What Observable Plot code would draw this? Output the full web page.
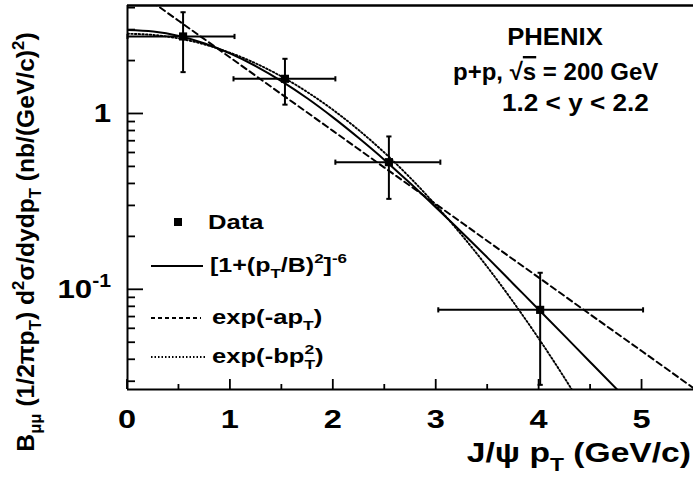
<!DOCTYPE html>
<html><head><meta charset="utf-8">
<script src="https://cdn.jsdelivr.net/npm/d3@7"></script>
<script src="https://cdn.jsdelivr.net/npm/@observablehq/plot@0.6"></script>
<style>
body{margin:0;background:#fff}
svg{display:block}
</style>
</head><body><div id="chart"></div>
<script>
// ---- Data ----
const dataX     = [0.54, 1.53, 2.54, 4.01];
const dataY     = [2.76, 1.585, 0.532, 0.0769];
const dataYLow  = [1.73, 1.13, 0.329, 0.0288];
const dataYHigh = [3.79, 2.06, 0.745, 0.125];
const dataXLow  = [0.0, 1.03, 2.02, 3.02];
const dataXHigh = [1.04, 2.02, 3.04, 5.01];

// [1+(pT/B)^2]^-6 curve (solid)
const powerX = [0,0.25,0.5,0.75,1,1.25,1.5,1.75,2,2.25,2.5,2.75,3,3.25,3.5,3.75,4,4.25,4.5,4.75,4.8];
const powerY = [3.000,2.941,2.774,2.518,2.205,1.867,1.533,1.224,0.953,0.727,0.546,0.402,0.293,0.212,0.152,0.108,0.0768,0.0545,0.0386,0.0274,0.0256];
// exp(-a pT) curve (dashed)
const expX = [0,0.5,1,1.5,2,2.5,3,3.5,4,4.5,5,5.5];
const expY = [5.465,3.379,2.089,1.292,0.799,0.494,0.306,0.189,0.117,0.0722,0.0447,0.0276];
// exp(-b pT^2) curve (dotted)
const gaussX = [0,0.25,0.5,0.75,1,1.25,1.5,1.75,2,2.25,2.5,2.75,3,3.25,3.5,3.75,4,4.25,4.4];
const gaussY = [2.860,2.816,2.687,2.485,2.227,1.935,1.630,1.330,1.052,0.807,0.600,0.432,0.301,0.204,0.134,0.085,0.0524,0.0313,0.0226];

// Axes
const xDomain = [0, 5.5];
const yDomain = [0.0271, 4.14];
const xMajorTicks = [0,1,2,3,4,5];
const xMinorTicks = [0.5,1.5,2.5,3.5,4.5];
const yMajorTicks = [0.1, 1];
const yMinorTicks = [0.03,0.04,0.05,0.06,0.07,0.08,0.09,0.2,0.3,0.4,0.5,0.6,0.7,0.8,0.9,2,3,4];
const yTickBase = ["10", "1"];
const yTickSup  = ["-1", ""];

const legendNames = ["Data", "power", "exp", "gauss"];

const points = dataX.map((x,i)=>({x, y:dataY[i], ylo:dataYLow[i], yhi:dataYHigh[i], xlo:dataXLow[i], xhi:dataXHigh[i]}));
const powerData = powerX.map((x,i)=>({x, y:powerY[i]}));
const expData = expX.map((x,i)=>({x, y:expY[i]}));
const gaussData = gaussX.map((x,i)=>({x, y:gaussY[i]}));

const hcap = {draw(ctx, size){const h=Math.sqrt(size/Math.PI); ctx.moveTo(-h,0); ctx.lineTo(h,0);}};
const vcap = {draw(ctx, size){const h=Math.sqrt(size/Math.PI); ctx.moveTo(0,-h); ctx.lineTo(0,h);}};

const FONT = "Liberation Sans, Arial, Helvetica, sans-serif";

const plot = Plot.plot({
  width: 693, height: 485,
  marginLeft: 127, marginRight: 0, marginTop: 5, marginBottom: 96,
  x: {domain: xDomain, axis: null},
  y: {type: "log", domain: yDomain, axis: null},
  style: {fontFamily: FONT, background: "white", color: "black"},
  marks: [
    Plot.line(powerData, {x:"x", y:"y", stroke:"black", strokeWidth:2, curve:"monotone-x", clip:true}),
    Plot.line(expData, {x:"x", y:"y", stroke:"black", strokeWidth:2, strokeDasharray:"6,4", curve:"monotone-x", clip:true}),
    Plot.line(gaussData, {x:"x", y:"y", stroke:"black", strokeWidth:1.9, strokeDasharray:"1.5,2.2", curve:"monotone-x", clip:true}),
    Plot.ruleX(points, {x:"x", y1:"ylo", y2:"yhi", stroke:"black", strokeWidth:2}),
    Plot.ruleY(points, {y:"y", x1:"xlo", x2:"xhi", stroke:"black", strokeWidth:2}),
    Plot.dot(points, {x:"x", y:"ylo", symbol:hcap, r:2.6, stroke:"black", fill:"none", strokeWidth:2}),
    Plot.dot(points, {x:"x", y:"yhi", symbol:hcap, r:2.6, stroke:"black", fill:"none", strokeWidth:2}),
    Plot.dot(points, {x:"xlo", y:"y", symbol:vcap, r:2.6, stroke:"black", fill:"none", strokeWidth:2}),
    Plot.dot(points, {x:"xhi", y:"y", symbol:vcap, r:2.6, stroke:"black", fill:"none", strokeWidth:2}),
    Plot.dot(points, {x:"x", y:"y", symbol:"square", r:4.6, fill:"black", stroke:"none"}),
    Plot.ruleX([xDomain[0]], {stroke:"black", strokeWidth:2}),
    Plot.ruleY([yDomain[0]], {stroke:"black", strokeWidth:2.2}),
    Plot.ruleY([yDomain[1]], {stroke:"black", strokeWidth:2.6})
  ]
});
document.getElementById("chart").appendChild(plot);

const sx = plot.scale("x"), sy = plot.scale("y");
const svg = d3.select(plot);
const X = v => sx.apply(v), Y = v => sy.apply(v);
const x0 = X(xDomain[0]), yb = Y(yDomain[0]);

// ticks (inward)
const tg = svg.append("g").attr("stroke","black").attr("stroke-width",1.8);
xMajorTicks.forEach(v=>tg.append("line").attr("x1",X(v)).attr("x2",X(v)).attr("y1",yb).attr("y2",yb-10));
xMinorTicks.forEach(v=>tg.append("line").attr("x1",X(v)).attr("x2",X(v)).attr("y1",yb).attr("y2",yb-5));
yMajorTicks.forEach(v=>tg.append("line").attr("x1",x0).attr("x2",x0+16).attr("y1",Y(v)).attr("y2",Y(v)));
yMinorTicks.forEach(v=>tg.append("line").attr("x1",x0).attr("x2",x0+8).attr("y1",Y(v)).attr("y2",Y(v)));

// rich text helper (segments: normal / sub / sup / stacked sub+sup), horizontal stretch k
function rich(parent, x, y, segs, size, anchor, k = 1) {
  const g = parent.append("g").attr("font-family", FONT).attr("font-weight","bold")
    .attr("fill","black").attr("text-anchor","start");
  let cx = 0;
  const small = size*0.68;
  for (const s of segs) {
    const [t, kind, t2] = s;
    if (kind === "subsup") {
      const a = g.append("text").attr("x",cx).attr("y",0.32*size).attr("font-size",small).text(t);
      const b = g.append("text").attr("x",cx).attr("y",-0.45*size).attr("font-size",small).text(t2);
      cx += Math.max(a.node().getComputedTextLength(), b.node().getComputedTextLength());
    } else {
      const el = g.append("text").attr("x",cx)
        .attr("y", kind==="sub" ? 0.32*size : kind==="sup" ? -0.45*size : 0)
        .attr("font-size", kind==="sub"||kind==="sup" ? small : size)
        .text(t);
      if (s[3]) el.attr("text-decoration", s[3]);
      cx += el.node().getComputedTextLength();
    }
  }
  const w = cx*k;
  const shift = anchor==="middle" ? -w/2 : anchor==="end" ? -w : 0;
  g.attr("transform", `translate(${x+shift},${y}) scale(${k},1)`);
  return g;
}

// x tick labels
xMajorTicks.forEach(v => rich(svg, X(v), yb+39, [[String(v),"n"]], 26, "middle", 1.25));
// y tick labels
yMajorTicks.forEach((v,i) => {
  const segs = [[yTickBase[i],"n"]];
  if (yTickSup[i]) segs.push([yTickSup[i],"sup"]);
  rich(svg, x0-16, Y(v)+9, segs, 26, "end", 1.2);
});

// axis titles
rich(svg, 691, 462, [["J/\u03c8 p","n"],["T","sub"],[" (GeV/c)","n"]], 28, "end", 1.2);
const yt = svg.append("g").attr("transform","translate(34,242) rotate(-90)");
rich(yt, 0, 0, [["B","n"],["\u03bc\u03bc","sub"],[" (1/2\u03c0p","n"],["T","sub"],[") d","n"],["2","sup"],["\u03c3/dydp","n"],["T","sub"],[" (nb/(GeV/c)","n"],["2","sup"],[")","n"]], 23, "middle", 1.07);

// annotations
rich(svg, 555, 45, [["PHENIX","n"]], 24, "middle", 1.07);
rich(svg, 453, 80, [["p+p, \u221a","n"],["s","n",null,"overline"],[" = 200 GeV","n"]], 24, "start", 1.0);
rich(svg, 502, 111, [["1.2 < y < 2.2","n"]], 24, "start", 1.09);

// legend
svg.append("rect").attr("x",174).attr("y",218).attr("width",8).attr("height",8).attr("fill","black");
rich(svg, 208, 229, [[legendNames[0],"n"]], 20, "start", 1.28);
svg.append("line").attr("x1",151).attr("x2",203).attr("y1",266).attr("y2",266).attr("stroke","black").attr("stroke-width",2);
rich(svg, 210, 272, [["[1+(p","n"],["T","sub"],["/B)","n"],["2","sup"],["]","n"],["-6","sup"]], 20, "start", 1.25);
svg.append("line").attr("x1",151).attr("x2",201).attr("y1",318).attr("y2",318).attr("stroke","black").attr("stroke-width",2).attr("stroke-dasharray","4,3");
rich(svg, 212, 324, [["exp(-ap","n"],["T","sub"],[")","n"]], 20, "start", 1.28);
svg.append("line").attr("x1",151).attr("x2",205).attr("y1",357).attr("y2",357).attr("stroke","black").attr("stroke-width",2).attr("stroke-dasharray","1.5,2");
rich(svg, 212, 363, [["exp(-bp","n"],["T","subsup","2"],[")","n"]], 20, "start", 1.28);
</script>
</body></html>
